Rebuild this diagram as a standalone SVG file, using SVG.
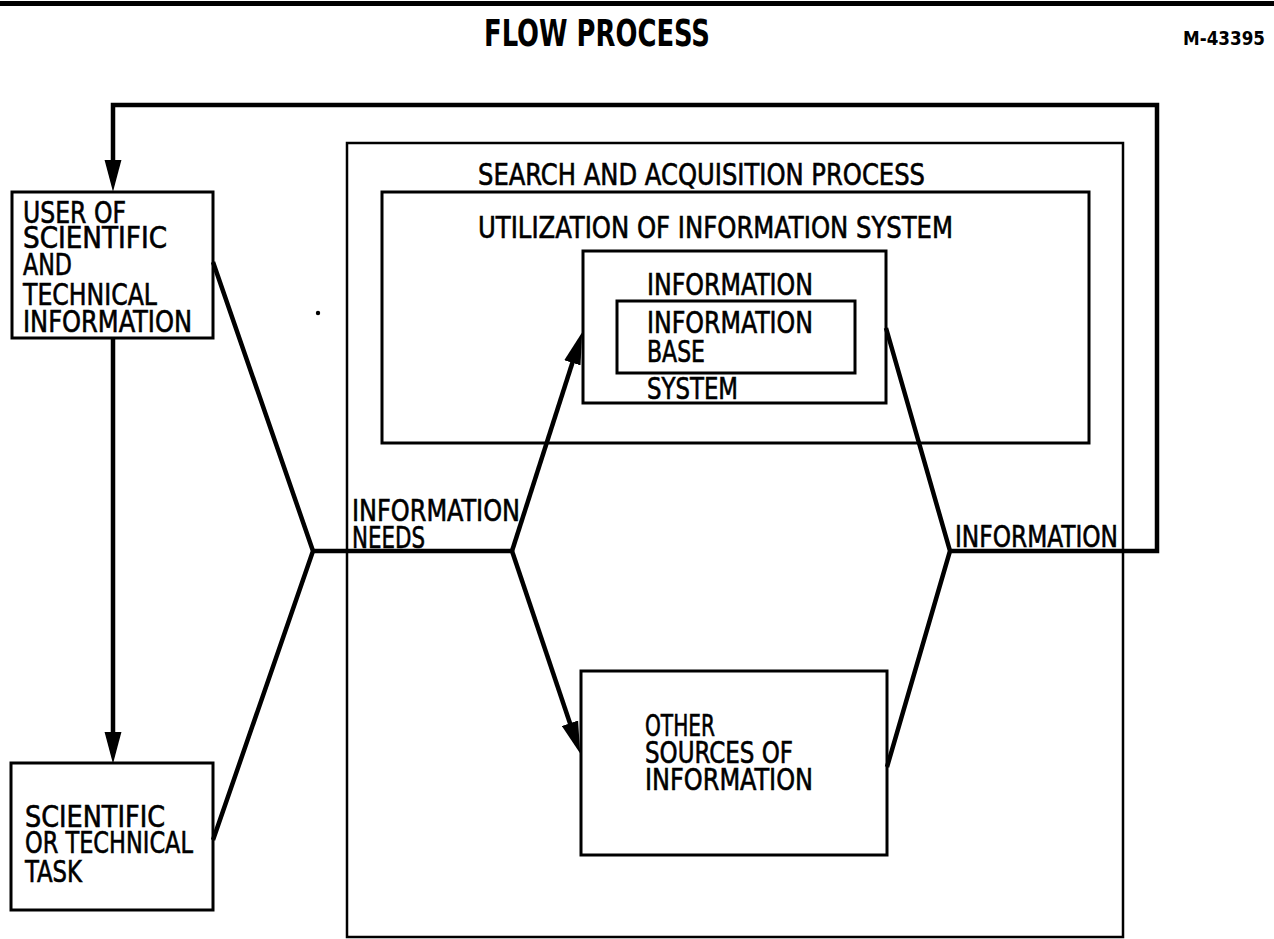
<svg xmlns="http://www.w3.org/2000/svg" width="1274" height="939" viewBox="0 0 1274 939">
  <style>
    .box { fill: none; stroke: #000; stroke-width: 3; }
    .frame { fill: none; stroke: #000; stroke-width: 2.5; }
    .wire { fill: none; stroke: #000; stroke-width: 4.5; stroke-linejoin: miter; }
    .lbl { font-family: "DejaVu Sans Condensed", "Liberation Sans Narrow", "DejaVu Sans", sans-serif; font-size: 30px; fill: #000; stroke: #000; stroke-width: 0.6; }
    .big { font-size: 30px; }
    .title { font-family: "DejaVu Sans Condensed", "Liberation Sans Narrow", "DejaVu Sans", sans-serif; font-weight: bold; fill: #000; }
  </style>
  <defs>
    <marker id="head" markerUnits="userSpaceOnUse" markerWidth="32" markerHeight="18" viewBox="0 0 30 16" refX="20" refY="8" orient="auto">
      <path d="M0,0 L30,8 L0,16 z" fill="#000"/>
    </marker>
  </defs>

  <rect width="1274" height="939" fill="#fff"/>

  <!-- header rule and titles -->
  <rect x="0" y="1" width="1274" height="5" fill="#000"/>
  <text class="title" x="484" y="46" font-size="38" textLength="226" lengthAdjust="spacingAndGlyphs">FLOW PROCESS</text>
  <text class="title" x="1183" y="45" font-size="19" textLength="82" lengthAdjust="spacingAndGlyphs">M-43395</text>

  <!-- enclosing process frame -->
  <g id="search-acquisition">
    <rect class="frame" x="347" y="143" width="776" height="794"/>
    <text class="lbl" x="478" y="185" textLength="447" lengthAdjust="spacingAndGlyphs">SEARCH AND ACQUISITION PROCESS</text>
  </g>

  <g id="utilization">
    <rect class="box" x="382" y="192" width="707" height="251"/>
    <text class="lbl" x="478" y="238" textLength="475" lengthAdjust="spacingAndGlyphs">UTILIZATION OF INFORMATION SYSTEM</text>
  </g>

  <g id="information-system">
    <rect class="box" x="583" y="251" width="303" height="152"/>
    <text class="lbl" x="647" y="295" textLength="166" lengthAdjust="spacingAndGlyphs">INFORMATION</text>
    <text class="lbl" x="647" y="399" textLength="91" lengthAdjust="spacingAndGlyphs">SYSTEM</text>
  </g>

  <g id="information-base">
    <rect class="box" x="617" y="301" width="238" height="72"/>
    <text class="lbl" x="647" y="333" textLength="166" lengthAdjust="spacingAndGlyphs">INFORMATION</text>
    <text class="lbl" x="647" y="362" textLength="58" lengthAdjust="spacingAndGlyphs">BASE</text>
  </g>

  <g id="other-sources">
    <rect class="box" x="581" y="671" width="306" height="184"/>
    <text class="lbl" x="645" y="736" textLength="70" lengthAdjust="spacingAndGlyphs">OTHER</text>
    <text class="lbl" x="645" y="763" textLength="148" lengthAdjust="spacingAndGlyphs">SOURCES OF</text>
    <text class="lbl" x="645" y="790" textLength="168" lengthAdjust="spacingAndGlyphs">INFORMATION</text>
  </g>

  <g id="user">
    <rect class="box" x="12" y="192" width="201" height="146"/>
    <text class="lbl big" x="23" y="223" textLength="103" lengthAdjust="spacingAndGlyphs">USER OF</text>
    <text class="lbl big" x="23" y="248" textLength="144" lengthAdjust="spacingAndGlyphs">SCIENTIFIC</text>
    <text class="lbl big" x="23" y="275" textLength="49" lengthAdjust="spacingAndGlyphs">AND</text>
    <text class="lbl big" x="23" y="305" textLength="134" lengthAdjust="spacingAndGlyphs">TECHNICAL</text>
    <text class="lbl big" x="23" y="332" textLength="169" lengthAdjust="spacingAndGlyphs">INFORMATION</text>
  </g>

  <g id="task">
    <rect class="box" x="11" y="763" width="202" height="147"/>
    <text class="lbl big" x="25" y="827" textLength="140" lengthAdjust="spacingAndGlyphs">SCIENTIFIC</text>
    <text class="lbl big" x="25" y="853" textLength="168" lengthAdjust="spacingAndGlyphs">OR TECHNICAL</text>
    <text class="lbl big" x="25" y="882" textLength="57" lengthAdjust="spacingAndGlyphs">TASK</text>
  </g>

  <!-- flow lines -->
  <g id="connectors">
    <path class="wire" d="M950,551 H1157 V105 H113 V181" marker-end="url(#head)"/>
    <path class="wire" d="M113,338 V753" marker-end="url(#head)"/>
    <path class="wire" d="M213,262 L313,551 L213,840"/>
    <path class="wire" d="M313,551 H512"/>
    <path class="wire" d="M512,551 L578.9,342.5" marker-end="url(#head)"/>
    <path class="wire" d="M512,551 L576.8,743.5" marker-end="url(#head)"/>
    <path class="wire" d="M886,328 L950,551 L887,767"/>
  </g>

  <g id="flow-labels">
    <text class="lbl" x="352" y="521" textLength="168" lengthAdjust="spacingAndGlyphs">INFORMATION</text>
    <text class="lbl" x="352" y="548" textLength="73" lengthAdjust="spacingAndGlyphs">NEEDS</text>
    <text class="lbl" x="955" y="547" textLength="163" lengthAdjust="spacingAndGlyphs">INFORMATION</text>
  </g>

  <circle cx="318" cy="313" r="2.2" fill="#000"/>
</svg>
